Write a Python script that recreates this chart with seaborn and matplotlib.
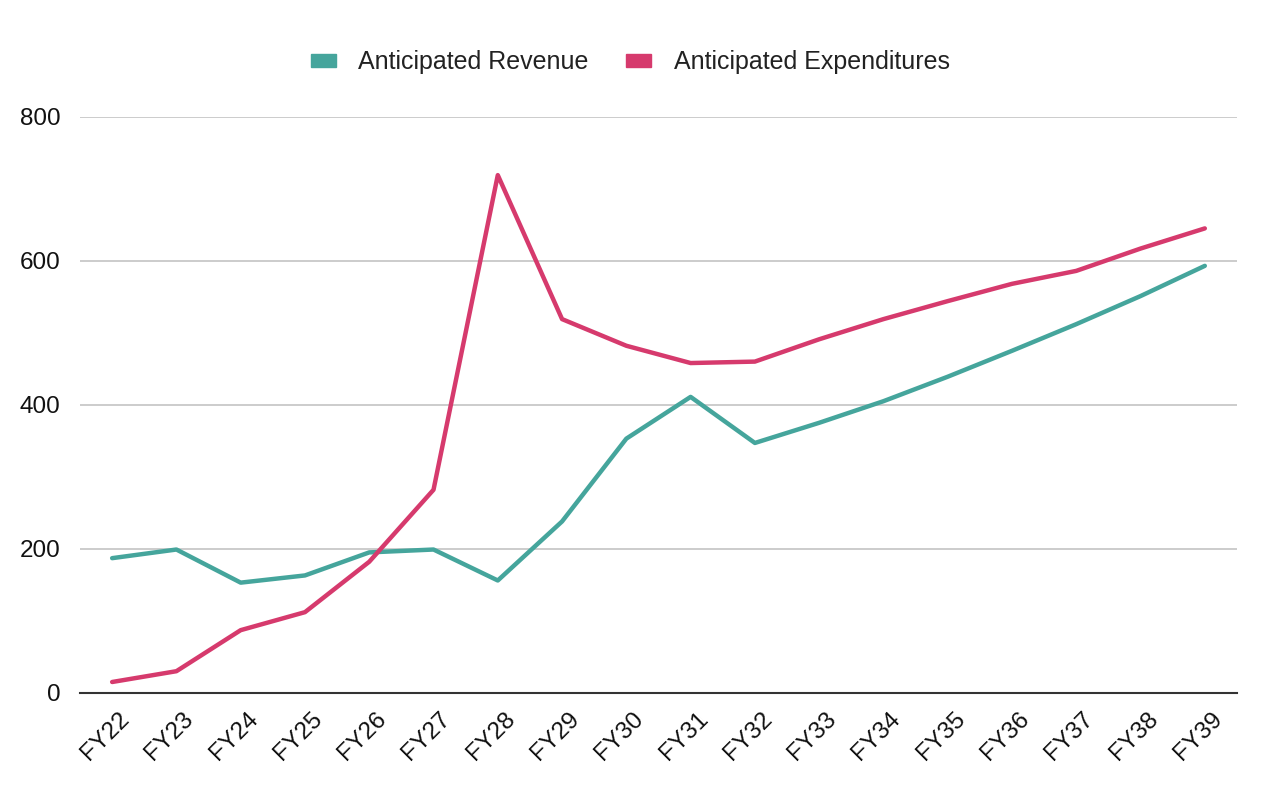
import matplotlib
matplotlib.use("Agg")
import matplotlib.pyplot as plt
import matplotlib.transforms as mtransforms
import seaborn as sns
import pandas as pd
from matplotlib.patches import Patch

years = ["FY22", "FY23", "FY24", "FY25", "FY26", "FY27", "FY28", "FY29", "FY30",
         "FY31", "FY32", "FY33", "FY34", "FY35", "FY36", "FY37", "FY38", "FY39"]
revenue = [187, 199, 153, 163, 195, 199, 156, 238, 353,
           411, 347, 375, 405, 439, 475, 512, 551, 593]
expenditures = [15, 30, 87, 112, 182, 282, 719, 519, 482,
                458, 460, 491, 519, 544, 568, 586, 617, 645]

teal = "#45A59C"
pink = "#D63A6D"

df = pd.DataFrame({
    "year": years * 2,
    "value": revenue + expenditures,
    "series": ["Anticipated Revenue"] * len(years) + ["Anticipated Expenditures"] * len(years),
})

sns.set_theme(style="white")
plt.rcParams["font.family"] = ["Liberation Sans", "DejaVu Sans"]

fig = plt.figure(figsize=(12.76, 8), dpi=100)
ax = fig.add_axes([0.0627, 0.134, 0.9067, 0.72])

sns.lineplot(data=df, x="year", y="value", hue="series", sort=False,
             palette={"Anticipated Revenue": teal, "Anticipated Expenditures": pink},
             linewidth=3.2, ax=ax, legend=False)

ax.set_xlim(-0.5, len(years) - 0.5)
ax.set_ylim(0, 800)
ax.set_yticks([0, 200, 400, 600, 800])
ax.grid(axis="y", color="#C8C8C8", linewidth=1.3)
ax.set_axisbelow(True)
for s in ["top", "right", "left"]:
    ax.spines[s].set_visible(False)
ax.spines["bottom"].set_color("#333333")
ax.spines["bottom"].set_linewidth(1.5)
for line in ax.lines:
    line.set_clip_on(False)

ax.set_xlabel("")
ax.set_ylabel("")
ax.tick_params(axis="y", labelsize=17.5, length=0, pad=14, labelcolor="#111111")
ax.tick_params(axis="x", labelsize=17.5, length=0, pad=11, labelcolor="#111111")
offset = mtransforms.ScaledTranslation(0.06, 0, fig.dpi_scale_trans)
for lab in ax.get_xticklabels():
    lab.set_rotation(45)
    lab.set_ha("right")
    lab.set_rotation_mode("anchor")
    lab.set_transform(lab.get_transform() + offset)

handles = [Patch(color=teal, label="Anticipated Revenue"),
           Patch(color=pink, label="Anticipated Expenditures")]
fig.legend(handles=handles, loc="center", bbox_to_anchor=(0.494, 0.922), ncol=2,
           frameon=False, fontsize=18, handlelength=1.0, handleheight=0.4,
           handletextpad=0.9, columnspacing=1.5, labelcolor="#222222")

fig.savefig("out.png", dpi=100, facecolor="white")
